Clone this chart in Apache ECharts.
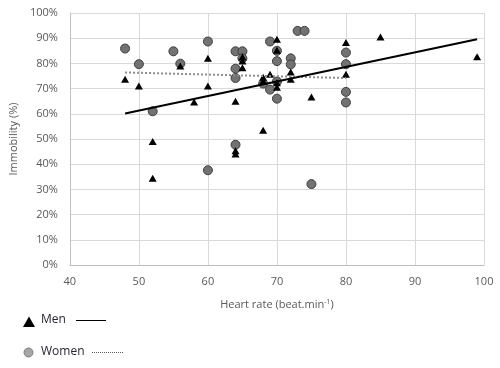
<!DOCTYPE html>
<html>
<head>
<meta charset="utf-8">
<script src="https://cdn.jsdelivr.net/npm/echarts@6/dist/echarts.min.js"></script>
<style>html,body{margin:0;padding:0;background:#fff}#c{width:500px;height:368px}</style>
</head>
<body>
<div id="c"></div>
<script>
// Heart rate (beat/min), immobility (%)
const menPoints = [
  [48,73.7],[50,71],[52,49],[52,34.4],[56,79],[58,64.7],[60,82],[60,71],
  [64,65],[64,45.3],[64,44],[65,82.5],[65,81],[65,78.3],[68,53.5],[68,74.5],
  [68,73],[69,75.7],[70,89.6],[70,85.2],[70,72.3],[70,70.5],[72,76.6],[72,73.7],
  [75,66.7],[80,88.3],[80,75.7],[85,90.5],[99,82.6]
];
const womenPoints = [
  [48,85.9],[50,79.7],[52,61],[55,84.8],[56,79.9],[60,88.7],[60,37.6],[64,84.8],
  [65,84.8],[65,82],[64,77.9],[64,74.2],[64,47.7],[69,88.7],[68,72],[69,69.6],
  [70,85],[70,80.9],[70,72.8],[70,66],[72,82],[72,79.6],[73,92.9],[74,92.9],
  [75,32.1],[80,84.3],[80,79.7],[80,68.7],[80,64.5]
];
const menTrend = [[48,60.1],[99,89.6]];
const womenTrend = [[48,76.4],[80,74.2]];
const xTicks = [40,50,60,70,80,90,100];
const yTicks = [0,10,20,30,40,50,60,70,80,90,100];

const FONT = 'Open Sans';
const chart = echarts.init(document.getElementById('c'), null, {renderer:'canvas'});
chart.setOption({
  animation: false,
  backgroundColor: '#fff',
  grid: {left: 65, right: 16, top: 13, bottom: 103, containLabel: false},
  xAxis: {
    type: 'value', min: xTicks[0], max: xTicks[xTicks.length-1], interval: 10,
    name: 'Heart rate (beat.min{sup|-1})',
    nameLocation: 'middle', nameGap: 33,
    nameTextStyle: {color: '#595959', fontFamily: FONT, fontSize: 11,
      rich: {sup: {fontSize: 7, color: '#595959', fontFamily: FONT, padding: [0,0,6,0]}}},
    axisLine: {show: true, lineStyle: {color: '#bfbfbf', width: 1}},
    axisTick: {show: false},
    axisLabel: {color: '#595959', fontFamily: FONT, fontSize: 11, margin: 11},
    splitLine: {show: true, lineStyle: {color: '#d9d9d9', width: 1}}
  },
  yAxis: {
    type: 'value', min: yTicks[0], max: yTicks[yTicks.length-1], interval: 10,
    name: 'Immobility (%)', nameLocation: 'middle', nameGap: 49, nameRotate: 90,
    nameTextStyle: {color: '#595959', fontFamily: FONT, fontSize: 11},
    axisLine: {show: true, lineStyle: {color: '#bfbfbf', width: 1}},
    axisTick: {show: false},
    axisLabel: {color: '#595959', fontFamily: FONT, fontSize: 11, margin: 12, formatter: '{value}%'},
    splitLine: {show: true, lineStyle: {color: '#d9d9d9', width: 1}}
  },
  series: [
    {
      name: 'Women', type: 'scatter', data: womenPoints, symbol: 'circle', symbolSize: 9,
      itemStyle: {color: '#727272', borderColor: '#3f3f3f', borderWidth: 1, opacity: 1}, z: 3
    },
    {
      name: 'Men', type: 'scatter', data: menPoints, symbol: 'triangle', symbolSize: [8,7],
      itemStyle: {color: '#000', opacity: 1}, z: 4
    },
    {
      name: 'Women trend', type: 'line', data: womenTrend, showSymbol: false, symbol: 'none',
      lineStyle: {color: '#8c8c8c', width: 2, type: [2,2]}, z: 5
    },
    {
      name: 'Men trend', type: 'line', data: menTrend, showSymbol: false, symbol: 'none',
      lineStyle: {color: '#000', width: 2}, z: 6
    }
  ],
  graphic: [
    {type: 'polygon', shape: {points: [[29,316.5],[35,327],[23,327]]}, style: {fill: '#000'}},
    {type: 'text', left: 41, top: 314, style: {text: 'Men', font: '12px "Open Sans"', fill: '#262633'}},
    {type: 'line', shape: {x1: 76, y1: 320.5, x2: 106, y2: 320.5}, style: {stroke: '#000', lineWidth: 1}},
    {type: 'circle', shape: {cx: 28.5, cy: 352.5, r: 4.5}, style: {fill: '#a6a6a6', stroke: '#7f7f7f', lineWidth: 1}},
    {type: 'text', left: 41, top: 346, style: {text: 'Women', font: '12px "Open Sans"', fill: '#262633'}},
    {type: 'line', shape: {x1: 92, y1: 352.5, x2: 123, y2: 352.5}, style: {stroke: '#595959', lineWidth: 1, lineDash: [1,1]}}
  ]
});
</script>
</body>
</html>
